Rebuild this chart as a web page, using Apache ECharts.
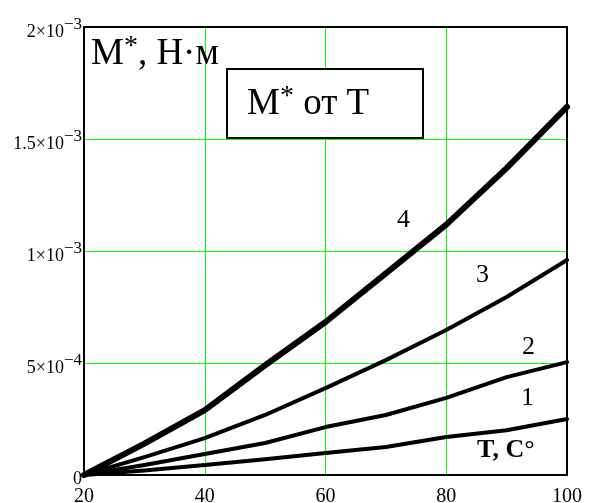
<!DOCTYPE html>
<html>
<head>
<meta charset="utf-8">
<script src="https://cdn.jsdelivr.net/npm/echarts@6/dist/echarts.min.js"></script>
<style>html,body{margin:0;padding:0;background:#fff}#c{width:592px;height:503px}</style>
</head>
<body>
<div id="c"></div>
<script>
var temps = [20, 30, 40, 50, 60, 70, 80, 90, 100];
var curve1 = [0, 0.020e-3, 0.045e-3, 0.070e-3, 0.098e-3, 0.125e-3, 0.170e-3, 0.200e-3, 0.250e-3];
var curve2 = [0, 0.045e-3, 0.094e-3, 0.143e-3, 0.214e-3, 0.268e-3, 0.344e-3, 0.437e-3, 0.504e-3];
var curve3 = [0, 0.080e-3, 0.165e-3, 0.268e-3, 0.388e-3, 0.513e-3, 0.647e-3, 0.795e-3, 0.960e-3];
var curve4 = [0, 0.140e-3, 0.290e-3, 0.490e-3, 0.683e-3, 0.900e-3, 1.118e-3, 1.370e-3, 1.643e-3];
var yTickLabels = {"0": "0", "0.0005": "5×10|−4", "0.001": "1×10|−3", "0.0015": "1.5×10|−3", "0.002": "2×10|−3"};
var curveNames = ["1", "2", "3", "4"];

function pairs(arr) { return temps.map(function (t, i) { return [t, arr[i]]; }); }
var F = '"Liberation Serif","Times New Roman",serif';
var GREEN = '#00ff00';
var chart = echarts.init(document.getElementById('c'));
function ser(name, arr, w) {
  return { name: name, type: 'line', data: pairs(arr), showSymbol: false, smooth: false,
    lineStyle: { color: '#000', width: w, cap: 'round', join: 'round' }, z: 5 };
}
chart.setOption({
  animation: false,
  grid: { left: 84, right: 25, top: 27, bottom: 28, show: true, borderColor: '#000', borderWidth: 2, z: 10,
          containLabel: false, outerBoundsMode: 'none' },
  xAxis: {
    type: 'value', min: 20, max: 100, interval: 20,
    axisLine: { show: false }, axisTick: { show: false },
    splitLine: { show: true, lineStyle: { color: [GREEN], width: 1, opacity: 1 } },
    axisLabel: { fontFamily: F, fontSize: 20, color: '#000', margin: 12 }
  },
  yAxis: {
    type: 'value', min: 0, max: 0.002, interval: 0.0005,
    axisLine: { show: false }, axisTick: { show: false },
    splitLine: { show: true, lineStyle: { color: [GREEN], width: 1, opacity: 1 } },
    axisLabel: {
      margin: 2, color: '#000', padding: [8, 0, 0, 0],
      formatter: function (v) {
        var key = String(+v.toFixed(6));
        var s = yTickLabels[key] || '';
        var p = s.split('|');
        if (p.length < 2) return '{z|' + s + '}';
        return '{a|' + p[0] + '}{s|' + p[1] + '}';
      },
      rich: {
        z: { fontFamily: F, fontSize: 18, color: '#000', lineHeight: 20 },
        a: { fontFamily: F, fontSize: 18, color: '#000', lineHeight: 20, verticalAlign: 'bottom' },
        s: { fontFamily: F, fontSize: 17, color: '#000', lineHeight: 20, verticalAlign: 'bottom', padding: [0, 0, 8, 0] }
      }
    }
  },
  series: [
    ser(curveNames[0], curve1, 4),
    ser(curveNames[1], curve2, 4),
    ser(curveNames[2], curve3, 4),
    ser(curveNames[3], curve4, 6)
  ],
  graphic: [
    { type: 'rect', z: 20, shape: { x: 227, y: 69, width: 196, height: 69 }, style: { fill: '#fff', stroke: '#000', lineWidth: 2 } },
    { type: 'text', z: 21, left: 247, top: 83, style: { rich: { m: { fontFamily: F, fontSize: 37, fill: '#000', lineHeight: 40, verticalAlign: 'bottom' }, s: { fontFamily: F, fontSize: 28, fill: '#000', lineHeight: 40, verticalAlign: 'top' } }, text: '{m|M}{s|*}{m| от T}' } },
    { type: 'text', z: 21, left: 91, top: 33, style: { rich: { m: { fontFamily: F, fontSize: 37, fill: '#000', lineHeight: 40, verticalAlign: 'bottom' }, s: { fontFamily: F, fontSize: 28, fill: '#000', lineHeight: 40, verticalAlign: 'top' } }, text: '{m|M}{s|*}{m|, H·м}' } },
    { type: 'text', z: 21, left: 397, top: 207, style: { text: '4', font: '26px ' + F, fill: '#000' } },
    { type: 'text', z: 21, left: 476, top: 262, style: { text: '3', font: '26px ' + F, fill: '#000' } },
    { type: 'text', z: 21, left: 522, top: 334, style: { text: '2', font: '26px ' + F, fill: '#000' } },
    { type: 'text', z: 21, left: 521, top: 385, style: { text: '1', font: '26px ' + F, fill: '#000' } },
    { type: 'text', z: 21, left: 477, top: 437, style: { text: 'T, C°', font: 'bold 26px ' + F, fill: '#000' } }
  ]
});
</script>
</body>
</html>
